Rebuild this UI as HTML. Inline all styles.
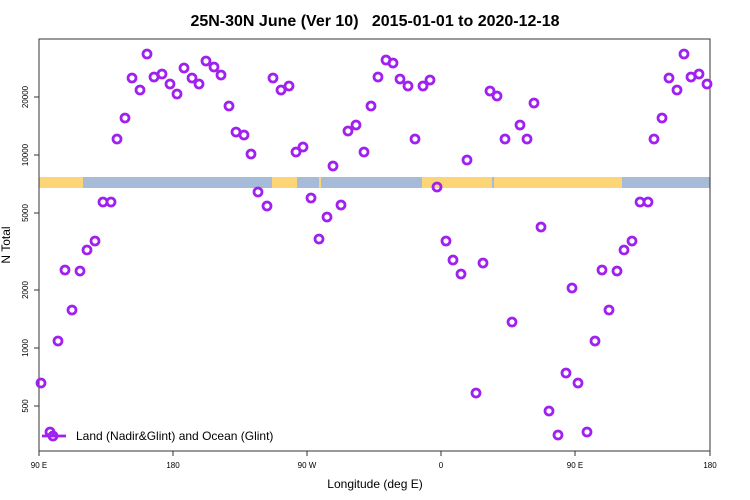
<!DOCTYPE html>
<html><head><meta charset="utf-8"><style>body{margin:0;background:#fff}svg{display:block}</style></head><body>
<svg width="750" height="500" xmlns="http://www.w3.org/2000/svg" font-family="Liberation Sans, sans-serif">
<rect width="750" height="500" fill="#fff"/>
<text x="375" y="26" text-anchor="middle" font-size="16" font-weight="bold" style="white-space:pre">25N-30N June (Ver 10)   2015-01-01 to 2020-12-18</text>
<g>
<rect x="39" y="177" width="671" height="11" fill="#a6bbd8"/>
<rect x="39" y="177" width="44" height="11" fill="#fdd576"/>
<rect x="272" y="177" width="25" height="11" fill="#fdd576"/>
<rect x="319" y="177" width="2" height="11" fill="#fdd576"/>
<rect x="422" y="177" width="200" height="11" fill="#fdd576"/>
<rect x="492" y="177" width="2" height="11" fill="#a6bbd8"/>
</g>
<rect x="39" y="39" width="671" height="412" fill="none" stroke="#333" stroke-width="1"/>
<g stroke="#333"><line x1="34" y1="97" x2="39" y2="97"/><line x1="34" y1="155" x2="39" y2="155"/><line x1="34" y1="213" x2="39" y2="213"/><line x1="34" y1="290" x2="39" y2="290"/><line x1="34" y1="348" x2="39" y2="348"/><line x1="34" y1="406" x2="39" y2="406"/>
<line x1="39" y1="451" x2="39" y2="456"/><line x1="173" y1="451" x2="173" y2="456"/><line x1="307" y1="451" x2="307" y2="456"/><line x1="441" y1="451" x2="441" y2="456"/><line x1="575" y1="451" x2="575" y2="456"/><line x1="710" y1="451" x2="710" y2="456"/></g>
<g font-size="8" text-anchor="middle">
<text transform="translate(28,97) rotate(-90)">20000</text>
<text transform="translate(28,155) rotate(-90)">10000</text>
<text transform="translate(28,213) rotate(-90)">5000</text>
<text transform="translate(28,290) rotate(-90)">2000</text>
<text transform="translate(28,348) rotate(-90)">1000</text>
<text transform="translate(28,406) rotate(-90)">500</text>
<text x="39" y="468">90 E</text><text x="173" y="468">180</text><text x="307" y="468">90 W</text><text x="441" y="468">0</text><text x="575" y="468">90 E</text><text x="710" y="468">180</text>
</g>
<text x="375" y="488" text-anchor="middle" font-size="12">Longitude (deg E)</text>
<text transform="translate(10,245) rotate(-90)" text-anchor="middle" font-size="12">N Total</text>
<g fill="none" stroke="#a020f0" stroke-width="2.8">
<line x1="42" y1="436" x2="66" y2="436"/>
<circle cx="50" cy="432" r="4"/><circle cx="53" cy="436" r="4"/>
</g>
<text x="76" y="440" font-size="12">Land (Nadir&amp;Glint) and Ocean (Glint)</text>
<g fill="none" stroke="#a020f0" stroke-width="2.8">
<circle cx="41" cy="383" r="4"/><circle cx="58" cy="341" r="4"/><circle cx="65" cy="270" r="4"/><circle cx="72" cy="310" r="4"/><circle cx="80" cy="271" r="4"/><circle cx="87" cy="250" r="4"/><circle cx="95" cy="241" r="4"/><circle cx="103" cy="202" r="4"/><circle cx="111" cy="202" r="4"/><circle cx="117" cy="139" r="4"/><circle cx="125" cy="118" r="4"/><circle cx="132" cy="78" r="4"/><circle cx="140" cy="90" r="4"/><circle cx="147" cy="54" r="4"/><circle cx="154" cy="77" r="4"/><circle cx="162" cy="74" r="4"/><circle cx="170" cy="84" r="4"/><circle cx="177" cy="94" r="4"/><circle cx="184" cy="68" r="4"/><circle cx="192" cy="78" r="4"/><circle cx="199" cy="84" r="4"/><circle cx="206" cy="61" r="4"/><circle cx="214" cy="67" r="4"/><circle cx="221" cy="75" r="4"/><circle cx="229" cy="106" r="4"/><circle cx="236" cy="132" r="4"/><circle cx="244" cy="135" r="4"/><circle cx="251" cy="154" r="4"/><circle cx="258" cy="192" r="4"/><circle cx="267" cy="206" r="4"/><circle cx="273" cy="78" r="4"/><circle cx="281" cy="90" r="4"/><circle cx="289" cy="86" r="4"/><circle cx="296" cy="152" r="4"/><circle cx="303" cy="147" r="4"/><circle cx="311" cy="198" r="4"/><circle cx="319" cy="239" r="4"/><circle cx="327" cy="217" r="4"/><circle cx="333" cy="166" r="4"/><circle cx="341" cy="205" r="4"/><circle cx="348" cy="131" r="4"/><circle cx="356" cy="125" r="4"/><circle cx="364" cy="152" r="4"/><circle cx="371" cy="106" r="4"/><circle cx="378" cy="77" r="4"/><circle cx="386" cy="60" r="4"/><circle cx="393" cy="63" r="4"/><circle cx="400" cy="79" r="4"/><circle cx="408" cy="86" r="4"/><circle cx="415" cy="139" r="4"/><circle cx="423" cy="86" r="4"/><circle cx="430" cy="80" r="4"/><circle cx="437" cy="187" r="4"/><circle cx="446" cy="241" r="4"/><circle cx="453" cy="260" r="4"/><circle cx="461" cy="274" r="4"/><circle cx="467" cy="160" r="4"/><circle cx="476" cy="393" r="4"/><circle cx="483" cy="263" r="4"/><circle cx="490" cy="91" r="4"/><circle cx="497" cy="96" r="4"/><circle cx="505" cy="139" r="4"/><circle cx="512" cy="322" r="4"/><circle cx="520" cy="125" r="4"/><circle cx="527" cy="139" r="4"/><circle cx="534" cy="103" r="4"/><circle cx="541" cy="227" r="4"/><circle cx="549" cy="411" r="4"/><circle cx="558" cy="435" r="4"/><circle cx="566" cy="373" r="4"/><circle cx="572" cy="288" r="4"/><circle cx="578" cy="383" r="4"/><circle cx="587" cy="432" r="4"/><circle cx="595" cy="341" r="4"/><circle cx="602" cy="270" r="4"/><circle cx="609" cy="310" r="4"/><circle cx="617" cy="271" r="4"/><circle cx="624" cy="250" r="4"/><circle cx="632" cy="241" r="4"/><circle cx="640" cy="202" r="4"/><circle cx="648" cy="202" r="4"/><circle cx="654" cy="139" r="4"/><circle cx="662" cy="118" r="4"/><circle cx="669" cy="78" r="4"/><circle cx="677" cy="90" r="4"/><circle cx="684" cy="54" r="4"/><circle cx="691" cy="77" r="4"/><circle cx="699" cy="74" r="4"/><circle cx="707" cy="84" r="4"/>
</g>
</svg>
</body></html>
